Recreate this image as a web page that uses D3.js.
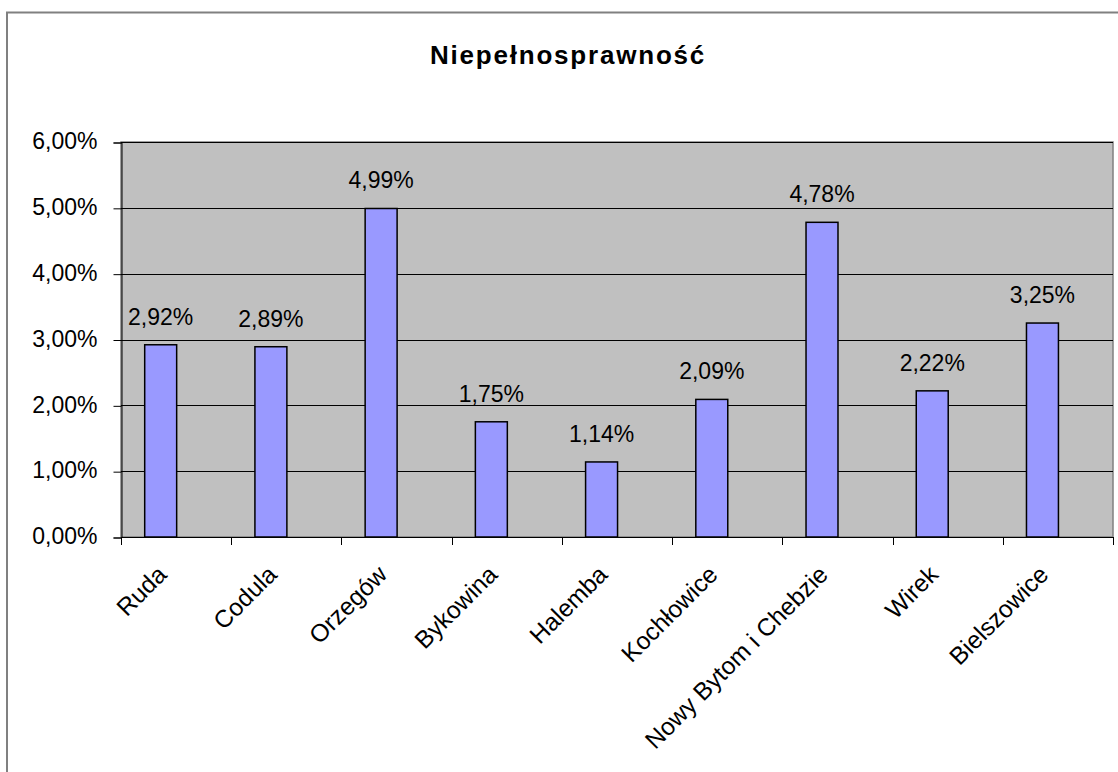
<!DOCTYPE html>
<html><head><meta charset="utf-8">
<script src="https://cdn.jsdelivr.net/npm/d3@7"></script>
<style>
html,body{margin:0;padding:0;background:#fff;}
svg{display:block;font-family:"Liberation Sans",Arial,sans-serif;}
</style></head>
<body>
<svg id="chart" width="1118" height="772"></svg>
<script>
const title = "Niepełnosprawność";
const categories = ["Ruda","Codula","Orzegów","Bykowina","Halemba","Kochłowice","Nowy Bytom i Chebzie","Wirek","Bielszowice"];
const values = [2.92, 2.89, 4.99, 1.75, 1.14, 2.09, 4.78, 2.22, 3.25];
const valueLabels = ["2,92%","2,89%","4,99%","1,75%","1,14%","2,09%","4,78%","2,22%","3,25%"];
const yTicks = [0,1,2,3,4,5,6];
const yTickLabels = ["0,00%","1,00%","2,00%","3,00%","4,00%","5,00%","6,00%"];

const svg = d3.select("#chart");
const L = 121, R = 1113, T = 142, B = 537;

// outer chart border
svg.append("rect").attr("x",7).attr("y",12.5).attr("width",1200).attr("height",900)
  .attr("fill","#fff").attr("stroke","#808080").attr("stroke-width",2);

// title
svg.append("text").attr("x",568).attr("y",64).attr("text-anchor","middle")
  .attr("font-size",26).attr("font-weight","bold").attr("letter-spacing","1.8px")
  .text(title);

const x = d3.scaleBand().domain(categories).range([L,R]).padding(0);
const y = d3.scaleLinear().domain([0,6]).range([B,T]);

// plot area
svg.append("rect").attr("x",L).attr("y",T).attr("width",R-L).attr("height",B-T)
  .attr("fill","#C0C0C0").attr("stroke","#808080").attr("stroke-width",1.5);

// gridlines
svg.append("g").selectAll("line").data(yTicks.filter(d=>d>0)).join("line")
  .attr("x1",L).attr("x2",R).attr("y1",d=>Math.round(y(d))+0.5).attr("y2",d=>Math.round(y(d))+0.5)
  .attr("stroke","#000").attr("stroke-width",1);

// y axis
const yAxis = d3.axisLeft(y).tickValues(yTicks).tickSize(8).tickPadding(16)
  .tickFormat((d,i)=>yTickLabels[i]);
const gy = svg.append("g").attr("transform",`translate(${L+0.5},0.5)`).call(yAxis);
gy.select(".domain").attr("stroke","#000");
gy.selectAll(".tick line").attr("stroke","#000");
gy.selectAll(".tick text").attr("font-size",23).attr("font-family","Liberation Sans, Arial, sans-serif")
  .attr("fill","#000").attr("dy","0.27em");

// x axis line and category boundary ticks
svg.append("line").attr("x1",L).attr("x2",R).attr("y1",B+0.5).attr("y2",B+0.5).attr("stroke","#000");
const bounds = categories.map(c=>x(c)).concat([R]);
svg.append("g").selectAll("line").data(bounds).join("line")
  .attr("x1",d=>Math.round(d)+0.5).attr("x2",d=>Math.round(d)+0.5)
  .attr("y1",B).attr("y2",B+8).attr("stroke","#000");

// bars
const bw = x.bandwidth();
const barOff = bw*0.215, barW = bw*0.29;
svg.append("g").selectAll("rect").data(values).join("rect")
  .attr("x",(d,i)=>x(categories[i])+barOff)
  .attr("y",d=>y(d))
  .attr("width",barW)
  .attr("height",d=>B-y(d))
  .attr("fill","#9999FF").attr("stroke","#000").attr("stroke-width",1.5);

// value labels
svg.append("g").selectAll("text").data(values).join("text")
  .attr("x",(d,i)=>x(categories[i])+barOff+barW/2)
  .attr("y",d=>y(d)-20)
  .attr("text-anchor","middle").attr("font-size",23).attr("fill","#000")
  .text((d,i)=>valueLabels[i]);

// category labels
svg.append("g").selectAll("text").data(categories).join("text")
  .attr("transform",d=>`translate(${x(d)+bw/2-8},576) rotate(-45)`)
  .attr("text-anchor","end").attr("font-size",24.5).attr("fill","#000")
  .text(d=>d);
</script>
</body></html>
